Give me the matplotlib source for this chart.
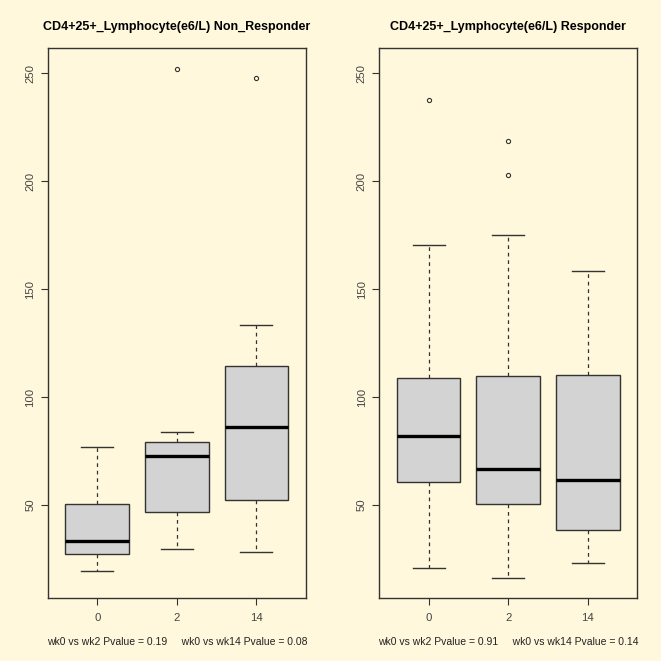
import matplotlib
matplotlib.use("Agg")
import matplotlib.pyplot as plt

plt.rcParams['font.family'] = ['Liberation Sans', 'DejaVu Sans']

BG = '#FFF8DC'
EDGE = '#333333'

weeks = ['0', '2', '14']

# box stats: low whisker, q1, median, q3, high whisker, outliers
nr_whislo = [19.5, 29.4, 28.2]
nr_q1 = [27.2, 46.8, 52.2]
nr_med = [33.4, 72.8, 86.3]
nr_q3 = [50.6, 79.1, 114.5]
nr_whishi = [77.0, 83.9, 133.6]
nr_fliers = [[], [252.2], [248.1]]

r_whislo = [20.9, 16.3, 22.9]
r_q1 = [60.8, 50.2, 38.6]
r_med = [81.9, 66.6, 61.7]
r_q3 = [109.0, 109.9, 110.0]
r_whishi = [170.4, 175.0, 158.5]
r_fliers = [[237.8], [218.7, 203.1], []]

titles = ['CD4+25+_Lymphocyte(e6/L) Non_Responder',
          'CD4+25+_Lymphocyte(e6/L) Responder']
subs = ['wk0 vs wk2 Pvalue = 0.19     wk0 vs wk14 Pvalue = 0.08',
        'wk0 vs wk2 Pvalue = 0.91     wk0 vs wk14 Pvalue = 0.14']

groups = [
    (nr_whislo, nr_q1, nr_med, nr_q3, nr_whishi, nr_fliers),
    (r_whislo, r_q1, r_med, r_q3, r_whishi, r_fliers),
]

# shared y range like R's default 4% padding around all data
all_vals = []
for g in groups:
    all_vals += g[0] + g[4] + sum(g[5], [])
lo, hi = min(all_vals), max(all_vals)
pad = (hi - lo) * 0.04
ylim = (lo - pad, hi + pad)

W = 661.0
fig = plt.figure(figsize=(6.61, 6.61), dpi=100, facecolor=BG)
lefts = [48, 379.3]

for i, (g, title, sub) in enumerate(zip(groups, titles, subs)):
    ax = fig.add_axes([lefts[i] / W, 63 / W, 257.7 / W, 549.7 / W])
    ax.set_facecolor(BG)
    stats = []
    for k, lab in enumerate(weeks):
        stats.append(dict(whislo=g[0][k], q1=g[1][k], med=g[2][k], q3=g[3][k],
                          whishi=g[4][k], fliers=g[5][k], label=lab))
    ax.bxp(stats, positions=[1, 2, 3], widths=0.8, patch_artist=True,
           boxprops=dict(facecolor='#D3D3D3', edgecolor=EDGE, linewidth=1),
           whiskerprops=dict(color=EDGE, linestyle=(0, (3, 3)), linewidth=0.9),
           capprops=dict(color=EDGE, linewidth=1),
           medianprops=dict(color='black', linewidth=2.4),
           flierprops=dict(marker='o', markerfacecolor='none', markeredgecolor=EDGE,
                           markersize=3, markeredgewidth=0.8))
    ax.set_xlim(0.38, 3.62)
    ax.set_ylim(*ylim)
    ax.set_yticks([50, 100, 150, 200, 250])
    ax.tick_params(axis='both', direction='out', length=5, width=0.8, color=EDGE,
                   labelcolor='#444444', labelsize=8.2)
    ax.tick_params(axis='x', pad=6)
    ax.tick_params(axis='y', pad=4)
    for t in ax.get_yticklabels():
        t.set_rotation(90)
        t.set_va('center')
    for s in ax.spines.values():
        s.set_color(EDGE)
        s.set_linewidth(1)
    ax.set_title(title, fontsize=9, fontweight='bold', pad=13)
    ax.annotate(sub, xy=(0.5, 0), xycoords='axes fraction', xytext=(0, -44),
                textcoords='offset pixels', ha='center', va='center',
                fontsize=7.5, color='#222222')

fig.savefig('out.png', dpi=100, facecolor=BG)
